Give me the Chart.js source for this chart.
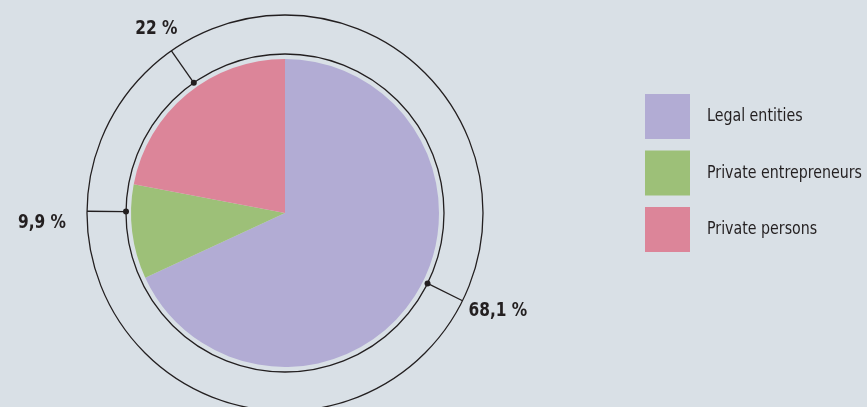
<!DOCTYPE html>
<html>
<head>
<meta charset="utf-8">
<script src="https://cdn.jsdelivr.net/npm/chart.js@4"></script>
<style>
  html, body { margin: 0; padding: 0; background: #d9e0e6; }
  #wrap { width: 867px; height: 407px; position: relative; }
</style>
</head>
<body>
<div id="wrap"><canvas id="pie"></canvas></div>
<script>
const categories = ['Legal entities', 'Private entrepreneurs', 'Private persons'];
const shares = [68.1, 9.9, 22];
const colors = ['#b2acd4', '#9dc078', '#dc8599'];

// leader line angle (deg, clockwise from top) and label offset from the line end
const leaderAngle = [116.3, 270.5, 325];
const labelOffset = [[6, 10], [-21, 12], [-15, -22]];
const labelAlign = ['left', 'right', 'center'];

const FONT = '"Liberation Sans Narrow", "DejaVu Sans Condensed", "Roboto Condensed", sans-serif';
const INK = '#231f20';

// draw text squeezed horizontally, the original uses a condensed face
function squeezed(ctx, text, x, y, k) {
    ctx.save();
    ctx.translate(x, y);
    ctx.scale(k, 1);
    ctx.fillText(text, 0, 0);
    ctx.restore();
}

const decor = {
    id: 'decor',
    afterDatasetsDraw(chart) {
        const ctx = chart.ctx;
        const arc = chart.getDatasetMeta(0).data[0];
        const cx = arc.x, cy = arc.y, r = arc.outerRadius;
        const rIn = r + 5, rOut = r + 44;

        ctx.save();
        ctx.strokeStyle = INK;
        ctx.lineWidth = 1.3;
        [rIn, rOut].forEach(rad => {
            ctx.beginPath();
            ctx.arc(cx, cy, rad, 0, Math.PI * 2);
            ctx.stroke();
        });

        shares.forEach((v, i) => {
            const a = leaderAngle[i] * Math.PI / 180;
            const sx = Math.sin(a), sy = -Math.cos(a);
            const x0 = cx + sx * rIn, y0 = cy + sy * rIn;
            const x1 = cx + sx * rOut, y1 = cy + sy * rOut;
            ctx.beginPath();
            ctx.moveTo(x0, y0);
            ctx.lineTo(x1, y1);
            ctx.stroke();
            ctx.beginPath();
            ctx.fillStyle = INK;
            ctx.arc(x0, y0, 3, 0, Math.PI * 2);
            ctx.fill();

            ctx.font = 'bold 19px ' + FONT;
            ctx.textAlign = labelAlign[i];
            ctx.textBaseline = 'middle';
            squeezed(ctx, String(v).replace('.', ',') + ' %', x1 + labelOffset[i][0], y1 + labelOffset[i][1], 0.9);
        });

        // legend
        ctx.font = '17px ' + FONT;
        ctx.textAlign = 'left';
        ctx.textBaseline = 'middle';
        categories.forEach((c, i) => {
            const y = 94 + i * 56.5;
            ctx.fillStyle = colors[i];
            ctx.fillRect(645, y, 45, 45);
            ctx.fillStyle = INK;
            squeezed(ctx, c, 707, y + 23, 0.93);
        });
        ctx.restore();
    }
};

new Chart(document.getElementById('pie'), {
    type: 'pie',
    data: {
        labels: categories,
        datasets: [{
            data: shares,
            backgroundColor: colors,
            borderWidth: 0,
            hoverOffset: 0
        }]
    },
    options: {
        responsive: true,
        maintainAspectRatio: false,
        animation: false,
        layout: { padding: { left: 131, right: 428, top: 59, bottom: 40 } },
        plugins: {
            legend: { display: false },
            tooltip: { enabled: false }
        }
    },
    plugins: [decor]
});
</script>
</body>
</html>
